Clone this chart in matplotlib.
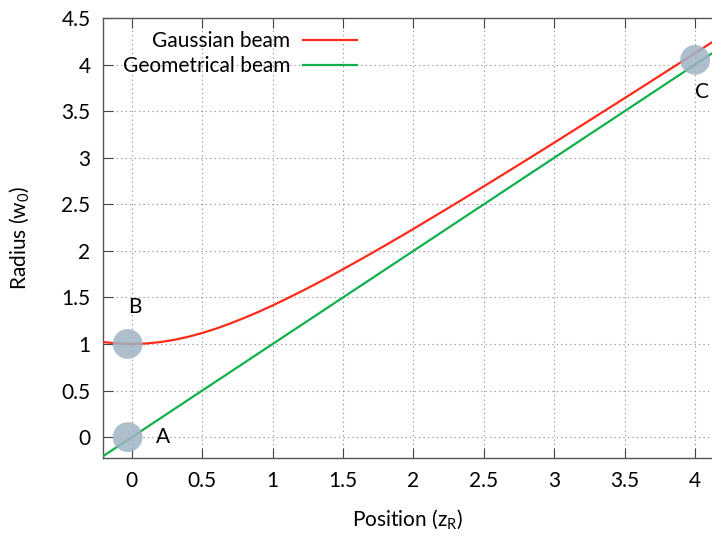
import matplotlib.pyplot as plt
from matplotlib.ticker import FormatStrFormatter

plt.rcParams['font.family'] = ['Lato', 'DejaVu Sans']
plt.rcParams['mathtext.default'] = 'regular'

# curves (position in z_R, radius in w_0)
z_gauss = [-0.2, -0.1, 0.0, 0.1, 0.2, 0.3, 0.4, 0.5, 0.6, 0.7, 0.8, 0.9, 1.0,
           1.1, 1.2, 1.3, 1.4, 1.5, 1.6, 1.7, 1.8, 1.9, 2.0, 2.2, 2.4, 2.6,
           2.8, 3.0, 3.2, 3.4, 3.6, 3.8, 4.0, 4.2]
w_gauss = [1.020, 1.005, 1.000, 1.005, 1.020, 1.044, 1.077, 1.118, 1.166,
           1.221, 1.281, 1.345, 1.414, 1.487, 1.562, 1.640, 1.720, 1.803,
           1.887, 1.972, 2.059, 2.147, 2.236, 2.417, 2.600, 2.786, 2.973,
           3.162, 3.353, 3.544, 3.736, 3.929, 4.123, 4.317]
z_geom = [-0.2, 4.2]
w_geom = [-0.2, 4.2]

# highlighted points and their labels
pt_x = [-0.03, -0.03, 4.0]
pt_y = [0.0, 1.0, 4.05]
pt_labels = ['A', 'B', 'C']
lab_x = [0.22, 0.02, 4.05]
lab_y = [0.0, 1.4, 3.7]

fig = plt.figure(figsize=(7.12, 5.37), dpi=100)
ax = fig.add_axes([0.1447, 0.147, 0.8553, 0.8195])

ax.plot(z_gauss, w_gauss, color='#ff2a1a', lw=1.6, label='Gaussian beam', zorder=3)
ax.plot(z_geom, w_geom, color='#10b04c', lw=1.6, label='Geometrical beam', zorder=3)
ax.scatter(pt_x, pt_y, s=460, color='#9fb3c4', alpha=0.85, edgecolors='none', zorder=4)
for x, y, t in zip(lab_x, lab_y, pt_labels):
    ax.text(x, y, t, fontsize=15, ha='center', va='center')

ax.set_xlim(-0.205, 4.12)
ax.set_ylim(-0.225, 4.5)
ax.set_xticks([0, 0.5, 1, 1.5, 2, 2.5, 3, 3.5, 4])
ax.set_yticks([0, 0.5, 1, 1.5, 2, 2.5, 3, 3.5, 4, 4.5])
ax.xaxis.set_major_formatter(FormatStrFormatter('%g'))
ax.yaxis.set_major_formatter(FormatStrFormatter('%g'))
ax.tick_params(direction='in', length=7, width=0.8, labelsize=15, pad=9,
               top=True, right=False, colors='#444444', labelcolor='black')
ax.grid(True, linestyle=(0, (1, 3)), color='#888888', lw=0.8)
ax.spines['right'].set_visible(False)
for s in ['left', 'top', 'bottom']:
    ax.spines[s].set_color('#555555')
    ax.spines[s].set_linewidth(1.0)

ax.set_xlabel('Position (z$_R$)', fontsize=15, labelpad=12)
ax.set_ylabel('Radius (w$_0$)', fontsize=15, labelpad=22)

leg = ax.legend(loc='upper right', bbox_to_anchor=(0.417, 0.97), markerfirst=False,
                frameon=False, fontsize=15, handlelength=2.6, handletextpad=0.6,
                labelspacing=0.25, borderpad=0, borderaxespad=0)
for t in leg.get_texts():
    t.set_ha('right')

fig.savefig('out.png', dpi=100)
